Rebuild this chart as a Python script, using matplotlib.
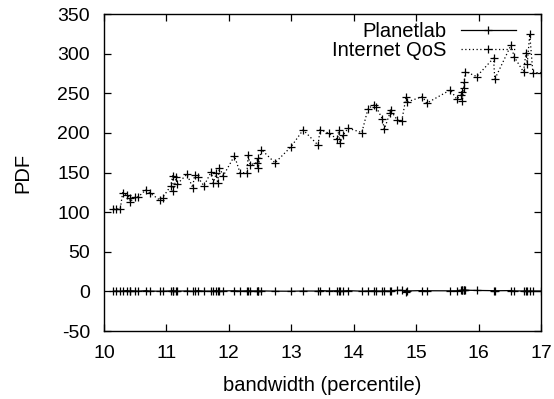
import matplotlib
matplotlib.use('Agg')
import matplotlib.pyplot as plt

plt.rcParams['font.family'] = ['Liberation Sans', 'DejaVu Sans']
plt.rcParams['axes.unicode_minus'] = False

# bandwidth (percentile) sample points
bw = [10.15, 10.20, 10.26, 10.30, 10.37, 10.41, 10.42, 10.50, 10.55, 10.67,
      10.74, 10.89, 10.94, 11.07, 11.10, 11.11, 11.16, 11.17, 11.33, 11.42,
      11.45, 11.50, 11.60, 11.72, 11.75, 11.80, 11.82, 11.85, 11.91, 12.09,
      12.18, 12.29, 12.31, 12.34, 12.45, 12.46, 12.47, 12.52, 12.74, 13.00,
      13.19, 13.43, 13.46, 13.60, 13.74, 13.76, 13.78, 13.83, 13.91, 14.13,
      14.23, 14.32, 14.36, 14.46, 14.49, 14.58, 14.59, 14.70, 14.77, 14.84,
      14.86, 15.10, 15.17, 15.55, 15.65, 15.72, 15.73, 15.74, 15.76, 15.77,
      15.79, 15.97, 16.24, 16.26, 16.52, 16.57, 16.72, 16.76, 16.78, 16.82,
      16.87, 17.00]

qos = [104, 104, 104, 124.7, 121.4, 118.4, 113.3, 119.3, 119.3, 128.1,
       123.9, 115.5, 118.4, 133.1, 145.8, 126.8, 144.5, 135.3, 147.9, 131,
       146.6, 144.5, 133.1, 151.2, 136.5, 149.2, 136.5, 156.2, 145.8, 171,
       149.5, 150, 172.3, 159.6, 162.6, 168.5, 155.5, 179, 162.2, 182.8,
       203.8, 184.5, 204.2, 199.6, 192, 203.8, 187.5, 197, 206, 200.4,
       230.7, 235, 232.8, 217.3, 204.7, 224.9, 228.7, 216, 215.2, 245.5,
       239.1, 245.8, 237.5, 254.3, 242.5, 247.8, 251.8, 240.4, 257.2, 264.4,
       277.4, 271.1, 294.3, 267.8, 310.7, 296, 277, 301, 287.5, 324.6,
       276, 276]

planetlab = [0.3, 0.5, 0.2, 0.6, 1.0, 0.4, 0.8, 0.5, 0.3, 0.9,
             0.4, 0.2, 0.3, 0.6, 1.0, 0.5, 0.7, 0.3, 0.6, 0.2,
             0.5, 0.9, 0.4, 0.3, 0.6, 1.0, 0.5, 0.4, 0.6, 0.8,
             0.5, 0.7, 1.0, 0.6, 0.5, 0.8, 0.4, 0.6, 0.3, 0.2,
             0.5, 0.4, 1.0, 0.6, 0.8, 0.5, 0.3, 0.6, 0.9, 0.3,
             0.6, 0.8, 0.5, 0.4, 0.7, 0.5, 0.9, 1.2, 1.4, -0.8,
             0.6, 1.0, 0.8, 0.7, 0.8, 1.2, 1.5, 1.3, 1.6, 1.4,
             1.5, 1.2, 0.9, 0.8, 1.0, 0.6, 0.5, 0.7, 0.4, 0.6,
             0.5, 0.4]

fig = plt.figure(figsize=(5.54, 3.99), dpi=100)
ax = fig.add_axes([0.1877, 0.1704, 0.7888, 0.7945])

ax.plot(bw, planetlab, color='black', lw=0.9, marker='+', ms=5.5,
        mew=0.9, label='Planetlab')
ax.plot(bw, qos, color='black', lw=0.9, ls=(0, (1, 2)), marker='+', ms=6,
        mew=0.9, label='Internet QoS')

ax.set_xlim(10, 17)
ax.set_ylim(-50, 350)
ax.set_xticks(range(10, 18))
ax.set_yticks(range(-50, 351, 50))
ax.tick_params(direction='in', length=5, width=0.9, top=True, right=True,
               labelsize=14)
ax.tick_params(axis='x', pad=10)
ax.tick_params(axis='y', pad=10)
for s in ax.spines.values():
    s.set_linewidth(1)

ax.set_xlabel('bandwidth (percentile)', fontsize=14.5, labelpad=10)
ax.set_ylabel('PDF', fontsize=14.5, labelpad=18)

ax.legend(loc='upper right', frameon=False, markerfirst=False, fontsize=14.5,
          handlelength=2.75, handletextpad=0.7, labelspacing=0.0,
          borderpad=0, borderaxespad=0, bbox_to_anchor=(0.943, 0.974),
          numpoints=1)

fig.savefig('out.png', dpi=100)
